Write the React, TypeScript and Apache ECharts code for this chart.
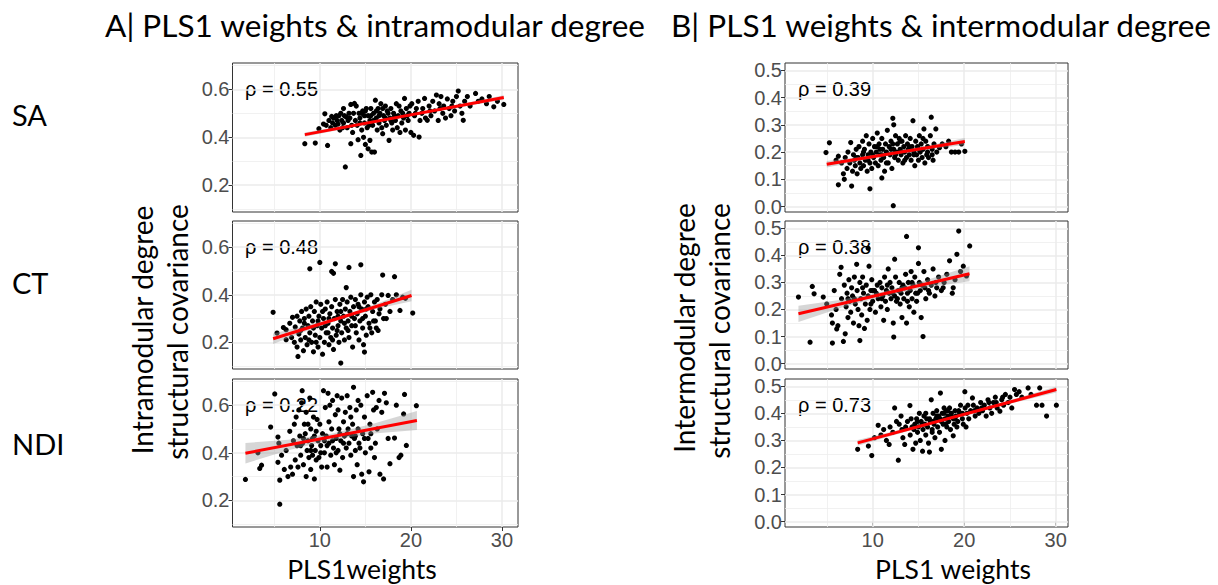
import React, { useEffect, useRef } from "react";
import * as echarts from "echarts";

const rowLabels = ["SA", "CT", "NDI"];
const rhoA = ["0.55", "0.48", "0.22"];
const rhoB = ["0.39", "0.38", "0.73"];
const xTicks = [10, 20, 30];
const xMinor = [5, 15, 25];
const yTicksA = [0.2, 0.4, 0.6];
const yMinorA = [0.1, 0.3, 0.5, 0.7];
const yTicksB = [0, 0.1, 0.2, 0.3, 0.4, 0.5];
const yMinorB = [0.05, 0.15, 0.25, 0.35, 0.45];

const aSA = [
  [8.35,0.373],[9.5,0.376],[9.9,0.436],[10.55,0.498],[10.85,0.366],[10.4,0.455],[10.7,0.45],[11.0,0.47],[11.3,0.487],[11.5,0.48],[11.2,0.44],[11.4,0.46],[11.7,0.45],[11.9,0.47],[12.0,0.455],[12.1,0.49],[12.2,0.43],[12.3,0.50],[12.5,0.44],[12.8,0.276],[12.6,0.46],[12.7,0.49],[12.9,0.485],[13.0,0.44],[13.1,0.47],[13.2,0.50],[13.4,0.537],[13.4,0.373],[13.6,0.42],[13.8,0.541],[13.9,0.47],[14.1,0.45],[14.2,0.39],[14.3,0.50],[14.5,0.324],[14.4,0.48],[14.6,0.43],[14.7,0.51],[14.8,0.40],[14.9,0.46],[15.0,0.37],[15.1,0.52],[15.2,0.44],[15.3,0.352],[15.3,0.49],[15.5,0.387],[15.5,0.47],[15.6,0.52],[15.7,0.338],[15.8,0.45],[15.9,0.50],[16.0,0.338],[16.1,0.555],[16.2,0.48],[16.3,0.43],[16.4,0.52],[16.5,0.46],[16.6,0.50],[16.7,0.54],[16.8,0.44],[16.9,0.415],[17.0,0.49],[17.1,0.47],[17.2,0.53],[17.3,0.45],[17.5,0.50],[17.6,0.387],[17.7,0.48],[17.8,0.52],[17.9,0.46],[18.0,0.43],[18.1,0.50],[18.3,0.47],[18.4,0.54],[18.5,0.44],[18.6,0.49],[18.8,0.42],[18.9,0.51],[19.0,0.46],[19.2,0.48],[19.3,0.562],[19.4,0.43],[19.5,0.52],[19.7,0.47],[19.8,0.50],[20.0,0.42],[20.1,0.54],[20.3,0.408],[20.4,0.49],[20.6,0.52],[20.9,0.401],[20.8,0.55],[21.0,0.47],[21.2,0.50],[21.5,0.562],[21.6,0.48],[21.8,0.471],[22.0,0.53],[22.2,0.49],[22.4,0.55],[22.6,0.51],[22.8,0.576],[23.0,0.47],[23.1,0.54],[23.3,0.57],[23.5,0.50],[23.6,0.53],[23.8,0.48],[24.0,0.56],[24.2,0.52],[24.4,0.49],[24.6,0.55],[24.8,0.51],[25.0,0.57],[25.2,0.593],[25.4,0.53],[25.6,0.50],[25.75,0.471],[25.9,0.55],[26.2,0.57],[26.5,0.53],[27.1,0.583],[27.4,0.55],[27.8,0.56],[28.3,0.54],[28.6,0.57],[29.1,0.527],[29.5,0.55],[30.2,0.537],
  [12.4,0.47],[13.3,0.48],[13.7,0.50],[14.0,0.53],[14.4,0.46],[14.9,0.49],[15.0,0.51],[15.4,0.45],[15.9,0.47],[16.2,0.51],[16.5,0.49],[16.9,0.52],[17.2,0.48],[17.4,0.51],[17.8,0.47],[18.2,0.49],[18.7,0.53],[19.1,0.50],[19.6,0.49],[19.9,0.53],[20.5,0.50],[21.3,0.52],[22.1,0.51],[23.2,0.52],[24.5,0.53],[11.8,0.49],[12.6,0.52],[13.5,0.45],[14.6,0.50],[15.6,0.49]
];

const aCT = [
  [4.87,0.326],[5.3,0.239],[6.0,0.262],[6.3,0.253],[6.3,0.211],[6.7,0.28],[6.9,0.22],[7.0,0.305],[7.2,0.20],[7.3,0.265],[7.5,0.31],[7.5,0.18],[7.6,0.141],[7.7,0.235],[7.8,0.29],[7.9,0.21],[8.0,0.33],[8.1,0.26],[8.2,0.165],[8.3,0.30],[8.4,0.22],[8.5,0.34],[8.6,0.19],[8.7,0.27],[8.8,0.31],[8.9,0.509],[8.9,0.24],[9.0,0.35],[9.1,0.20],[9.2,0.29],[9.3,0.16],[9.4,0.33],[9.5,0.23],[9.6,0.37],[9.7,0.27],[9.8,0.18],[9.9,0.31],[10.0,0.536],[10.0,0.22],[10.1,0.36],[10.2,0.26],[10.3,0.15],[10.4,0.30],[10.5,0.20],[10.6,0.34],[10.7,0.24],[10.8,0.37],[10.9,0.28],[11.0,0.19],[11.1,0.32],[11.2,0.22],[11.3,0.498],[11.3,0.35],[11.4,0.26],[11.5,0.49],[11.5,0.17],[11.6,0.30],[11.7,0.530],[11.7,0.38],[11.8,0.23],[11.9,0.33],[12.0,0.27],[12.1,0.20],[12.2,0.36],[12.3,0.113],[12.3,0.29],[12.4,0.24],[12.5,0.38],[12.6,0.31],[12.7,0.21],[12.8,0.34],[12.9,0.43],[12.9,0.26],[13.0,0.37],[13.1,0.29],[13.2,0.515],[13.2,0.22],[13.3,0.33],[13.4,0.39],[13.5,0.27],[13.6,0.18],[13.7,0.35],[13.8,0.30],[13.9,0.38],[14.0,0.24],[14.1,0.32],[14.2,0.36],[14.3,0.21],[14.4,0.29],[14.5,0.526],[14.5,0.40],[14.6,0.34],[14.7,0.26],[14.8,0.19],[14.9,0.159],[14.9,0.37],[15.0,0.31],[15.1,0.23],[15.2,0.39],[15.3,0.35],[15.4,0.28],[15.6,0.40],[15.7,0.24],[15.8,0.33],[16.0,0.37],[16.1,0.29],[16.2,0.26],[16.3,0.38],[16.4,0.25],[16.6,0.34],[16.8,0.40],[16.9,0.483],[17.0,0.30],[17.2,0.36],[17.5,0.397],[17.7,0.33],[18.0,0.38],[18.2,0.476],[18.4,0.40],[18.8,0.334],[19.1,0.39],[19.4,0.385],[20.2,0.323],
  [7.9,0.25],[8.3,0.28],[8.8,0.21],[9.3,0.26],[9.8,0.29],[10.3,0.33],[10.6,0.27],[11.0,0.30],[11.4,0.21],[11.9,0.25],[12.3,0.33],[12.7,0.28],[13.1,0.25],[13.5,0.31],[13.9,0.27],[14.3,0.35],[14.7,0.30],[15.1,0.34],[15.5,0.26],[15.9,0.29],[16.5,0.32],[17.3,0.30],[9.6,0.20],[10.9,0.24],[12.0,0.31]
];

const aNDI = [
  [1.83,0.288],[3.2,0.40],[3.4,0.334],[3.6,0.348],[4.6,0.508],[5.05,0.647],[5.4,0.466],[5.4,0.36],[5.5,0.44],[5.6,0.285],[5.6,0.184],[5.8,0.39],[6.1,0.33],[6.3,0.41],[6.5,0.30],[6.7,0.49],[6.8,0.34],[7.0,0.31],[7.1,0.45],[7.2,0.52],[7.3,0.37],[7.4,0.55],[7.5,0.43],[7.6,0.34],[7.7,0.58],[7.8,0.47],[7.9,0.39],[8.0,0.61],[8.06,0.661],[8.1,0.44],[8.2,0.35],[8.3,0.52],[8.4,0.48],[8.5,0.30],[8.5,0.57],[8.6,0.41],[8.7,0.45],[8.8,0.38],[8.9,0.63],[9.0,0.50],[9.0,0.33],[9.1,0.43],[9.2,0.39],[9.3,0.55],[9.4,0.29],[9.4,0.47],[9.5,0.41],[9.6,0.37],[9.7,0.54],[9.8,0.45],[9.9,0.38],[10.0,0.52],[10.1,0.43],[10.2,0.34],[10.3,0.48],[10.4,0.661],[10.5,0.40],[10.6,0.59],[10.7,0.47],[10.8,0.34],[10.9,0.65],[11.0,0.44],[11.1,0.60],[11.2,0.39],[11.3,0.50],[11.4,0.62],[11.5,0.42],[11.6,0.35],[11.7,0.56],[11.8,0.46],[11.9,0.64],[12.0,0.41],[12.1,0.50],[12.2,0.327],[12.3,0.45],[12.4,0.63],[12.5,0.38],[12.6,0.53],[12.7,0.47],[12.8,0.57],[12.9,0.42],[13.0,0.64],[13.1,0.50],[13.2,0.44],[13.3,0.59],[13.4,0.39],[13.5,0.47],[13.6,0.52],[13.7,0.675],[13.7,0.30],[13.8,0.46],[13.9,0.41],[14.0,0.58],[14.1,0.35],[14.2,0.50],[14.3,0.44],[14.5,0.60],[14.6,0.31],[14.7,0.48],[14.8,0.278],[14.9,0.55],[15.0,0.40],[15.2,0.64],[15.3,0.46],[15.4,0.32],[15.5,0.52],[15.6,0.42],[15.8,0.654],[15.9,0.58],[16.0,0.38],[16.2,0.59],[16.3,0.50],[16.5,0.62],[16.6,0.31],[16.8,0.57],[17.0,0.29],[17.1,0.65],[17.3,0.61],[17.5,0.46],[17.7,0.354],[18.2,0.462],[18.4,0.60],[18.7,0.38],[18.9,0.39],[19.2,0.563],[19.3,0.645],[19.5,0.431],[20.6,0.598],
  [8.2,0.46],[8.7,0.52],[9.2,0.46],[9.6,0.49],[10.1,0.40],[10.5,0.45],[11.0,0.53],[11.4,0.45],[11.8,0.40],[12.2,0.48],[12.6,0.44],[13.0,0.48],[13.4,0.55],[13.9,0.47],[14.4,0.42],[14.9,0.46],[15.6,0.48],[16.1,0.44],[9.0,0.41],[10.8,0.43],[12.0,0.58],[7.9,0.43],[14.2,0.62]
];

const bSA = [
  [4.9,0.198],[5.27,0.234],[6.0,0.17],[6.25,0.185],[6.25,0.08],[6.6,0.16],[6.8,0.12],[6.9,0.10],[7.0,0.18],[7.2,0.14],[7.3,0.20],[7.5,0.16],[7.6,0.235],[7.7,0.075],[7.8,0.13],[7.9,0.19],[8.0,0.17],[8.1,0.15],[8.2,0.21],[8.3,0.12],[8.4,0.18],[8.5,0.22],[8.6,0.16],[8.7,0.14],[8.9,0.24],[8.9,0.19],[9.0,0.15],[9.1,0.21],[9.2,0.17],[9.3,0.26],[9.4,0.13],[9.5,0.19],[9.6,0.23],[9.7,0.065],[9.7,0.16],[9.8,0.20],[9.9,0.14],[10.0,0.25],[10.1,0.18],[10.2,0.22],[10.3,0.16],[10.4,0.20],[10.5,0.27],[10.6,0.15],[10.7,0.23],[10.8,0.19],[10.9,0.17],[11.0,0.105],[11.0,0.25],[11.1,0.21],[11.2,0.18],[11.3,0.13],[11.4,0.23],[11.5,0.20],[11.6,0.28],[11.7,0.16],[11.8,0.22],[11.9,0.19],[12.0,0.24],[12.1,0.14],[12.2,0.324],[12.3,0.30],[12.25,0.003],[12.3,0.21],[12.4,0.18],[12.5,0.26],[12.6,0.20],[12.7,0.23],[12.8,0.17],[12.9,0.25],[13.0,0.21],[13.1,0.19],[13.2,0.24],[13.3,0.16],[13.4,0.22],[13.5,0.20],[13.6,0.26],[13.7,0.18],[13.8,0.23],[13.9,0.21],[14.0,0.19],[14.1,0.25],[14.2,0.17],[14.3,0.22],[14.4,0.315],[14.5,0.20],[14.6,0.15],[14.7,0.24],[14.8,0.19],[14.9,0.22],[15.0,0.17],[15.1,0.26],[15.2,0.20],[15.3,0.23],[15.4,0.18],[15.5,0.21],[15.6,0.285],[15.7,0.16],[15.8,0.24],[15.9,0.19],[16.0,0.22],[16.1,0.18],[16.3,0.26],[16.4,0.328],[16.5,0.21],[16.6,0.17],[16.7,0.23],[16.9,0.285],[17.0,0.20],[17.3,0.216],[17.6,0.23],[18.0,0.22],[18.3,0.24],[18.6,0.20],[19.0,0.20],[19.4,0.20],[19.7,0.23],[20.07,0.203],
  [9.0,0.20],[9.5,0.17],[10.0,0.19],[10.5,0.22],[11.0,0.19],[11.5,0.16],[12.0,0.21],[12.5,0.19],[13.0,0.24],[13.5,0.17],[14.0,0.22],[14.5,0.19],[15.0,0.21],[15.5,0.25],[16.0,0.20],[16.5,0.19],[13.2,0.20],[12.2,0.23],[10.8,0.21],[8.2,0.18]
];

const bCT = [
  [1.89,0.246],[3.16,0.079],[3.4,0.285],[3.6,0.258],[4.6,0.246],[4.98,0.22],[5.5,0.18],[5.6,0.15],[5.6,0.076],[5.8,0.27],[6.0,0.20],[6.07,0.128],[6.2,0.14],[6.4,0.33],[6.55,0.356],[6.6,0.24],[6.8,0.082],[6.9,0.29],[7.0,0.11],[7.1,0.21],[7.2,0.26],[7.3,0.17],[7.4,0.31],[7.5,0.23],[7.6,0.19],[7.7,0.28],[7.8,0.25],[7.9,0.15],[8.0,0.32],[8.1,0.22],[8.25,0.367],[8.3,0.27],[8.4,0.20],[8.5,0.14],[8.6,0.085],[8.6,0.30],[8.7,0.24],[8.8,0.18],[8.9,0.32],[9.0,0.26],[9.1,0.13],[9.2,0.22],[9.3,0.29],[9.4,0.16],[9.5,0.426],[9.5,0.25],[9.6,0.36],[9.7,0.20],[9.8,0.27],[9.9,0.31],[10.0,0.23],[10.2,0.27],[10.3,0.19],[10.4,0.26],[10.6,0.24],[10.8,0.30],[10.9,0.21],[11.0,0.28],[11.1,0.25],[11.2,0.16],[11.3,0.32],[11.4,0.23],[11.5,0.27],[11.6,0.20],[11.7,0.35],[11.8,0.26],[11.9,0.30],[12.0,0.24],[12.1,0.28],[12.25,0.15],[12.3,0.098],[12.4,0.386],[12.4,0.25],[12.5,0.32],[12.6,0.23],[12.8,0.27],[12.9,0.30],[13.0,0.22],[13.1,0.26],[13.2,0.17],[13.3,0.29],[13.4,0.24],[13.5,0.28],[13.6,0.33],[13.7,0.47],[13.7,0.15],[13.8,0.26],[13.9,0.30],[14.0,0.21],[14.1,0.27],[14.2,0.34],[14.3,0.24],[14.4,0.29],[14.5,0.19],[14.6,0.32],[14.7,0.26],[14.8,0.23],[15.0,0.428],[15.0,0.37],[15.1,0.30],[15.2,0.27],[15.3,0.17],[15.5,0.10],[15.6,0.34],[15.7,0.28],[15.8,0.24],[16.0,0.31],[16.2,0.26],[16.4,0.29],[16.6,0.35],[16.8,0.25],[17.0,0.28],[17.2,0.32],[17.5,0.27],[17.8,0.30],[18.1,0.33],[18.4,0.38],[18.7,0.26],[18.8,0.28],[19.0,0.31],[19.2,0.404],[19.4,0.49],[19.6,0.34],[19.9,0.36],[20.25,0.324],[20.6,0.435],
  [8.0,0.24],[8.9,0.28],[9.8,0.22],[10.5,0.29],[11.0,0.24],[11.6,0.29],[12.2,0.26],[12.7,0.24],[13.2,0.28],[13.8,0.23],[14.3,0.30],[14.9,0.26],[15.4,0.29],[16.1,0.27],[16.9,0.30],[17.7,0.28],[10.0,0.27],[7.3,0.24]
];

const bNDI = [
  [8.36,0.267],[9.53,0.279],[9.9,0.244],[10.2,0.31],[10.6,0.356],[10.9,0.32],[11.2,0.34],[11.5,0.30],[11.8,0.285],[11.9,0.35],[12.2,0.33],[12.4,0.42],[12.6,0.37],[12.8,0.227],[12.9,0.36],[13.1,0.39],[13.3,0.31],[13.5,0.285],[13.6,0.35],[13.8,0.37],[14.07,0.429],[14.1,0.32],[14.2,0.38],[14.4,0.267],[14.5,0.34],[14.6,0.36],[14.7,0.29],[14.8,0.38],[14.9,0.33],[15.0,0.35],[15.1,0.40],[15.2,0.30],[15.3,0.37],[15.45,0.26],[15.5,0.34],[15.6,0.39],[15.7,0.36],[15.8,0.32],[15.9,0.38],[16.0,0.35],[16.1,0.29],[16.2,0.257],[16.3,0.37],[16.4,0.45],[16.5,0.34],[16.6,0.40],[16.7,0.36],[16.8,0.31],[16.9,0.38],[17.0,0.41],[17.1,0.35],[17.2,0.39],[17.3,0.33],[17.4,0.475],[17.5,0.267],[17.5,0.37],[17.6,0.40],[17.7,0.36],[17.8,0.42],[17.9,0.30],[17.9,0.38],[18.0,0.41],[18.1,0.35],[18.2,0.39],[18.3,0.37],[18.4,0.42],[18.5,0.34],[18.6,0.40],[18.8,0.317],[18.8,0.38],[18.9,0.36],[19.0,0.41],[19.1,0.39],[19.2,0.35],[19.3,0.37],[19.5,0.40],[19.6,0.43],[19.8,0.38],[19.9,0.36],[20.07,0.48],[20.1,0.42],[20.2,0.35],[20.3,0.40],[20.5,0.38],[20.7,0.41],[20.9,0.457],[21.0,0.43],[21.2,0.39],[21.4,0.42],[21.6,0.40],[21.8,0.44],[22.0,0.41],[22.2,0.43],[22.4,0.39],[22.6,0.45],[22.8,0.42],[23.0,0.40],[23.2,0.44],[23.4,0.46],[23.6,0.42],[23.9,0.408],[24.1,0.45],[24.3,0.43],[24.5,0.47],[24.8,0.44],[25.0,0.46],[25.2,0.42],[25.5,0.488],[25.7,0.47],[26.0,0.48],[26.3,0.46],[26.98,0.494],[27.3,0.47],[27.9,0.43],[28.25,0.494],[28.5,0.43],[29.0,0.39],[30.07,0.43],
  [14.3,0.35],[14.9,0.37],[15.4,0.36],[15.8,0.40],[16.2,0.38],[16.6,0.37],[17.0,0.39],[17.4,0.38],[17.8,0.40],[18.2,0.41],[18.6,0.39],[19.0,0.38],[19.4,0.41],[19.8,0.40],[20.4,0.43],[21.1,0.41],[21.9,0.42],[22.7,0.44],[23.5,0.44],[24.2,0.46],[13.2,0.34],[16.5,0.33],[18.0,0.36]
];

const fitASA = [[8.35,0.411],[30.2,0.566]];
const fitACT = [[4.87,0.215],[20.07,0.397]];
const fitANDI = [[1.83,0.398],[20.66,0.536]];
const fitBSA = [[4.98,0.155],[20.07,0.239]];
const fitBCT = [[1.89,0.184],[20.58,0.332]];
const fitBNDI = [[8.36,0.291],[30.07,0.488]];

const bandASA = [[8.35,0.402,0.420],[13.8,0.444,0.456],[19.3,0.485,0.493],[24.7,0.521,0.533],[30.2,0.557,0.575]];
const bandACT = [[4.87,0.193,0.237],[8.67,0.250,0.272],[12.47,0.299,0.313],[16.27,0.341,0.362],[20.07,0.373,0.421]];
const bandANDI = [[1.83,0.355,0.441],[6.54,0.411,0.455],[11.25,0.454,0.480],[15.95,0.481,0.523],[20.66,0.496,0.576]];
const bandBSA = [[4.98,0.143,0.167],[8.75,0.169,0.183],[12.53,0.192,0.202],[16.3,0.211,0.225],[20.07,0.226,0.252]];
const bandBCT = [[1.89,0.154,0.214],[6.56,0.206,0.236],[11.24,0.249,0.267],[15.91,0.281,0.309],[20.58,0.304,0.360]];
const bandBNDI = [[8.36,0.280,0.302],[13.79,0.334,0.346],[19.22,0.386,0.394],[24.64,0.433,0.445],[30.07,0.477,0.499]];

const TICK_FONT = "'Liberation Sans', Arial, sans-serif";
const TITLE_FONT = "Lato, 'Open Sans', sans-serif";

export default function App() {
  const ref = useRef<HTMLDivElement>(null);
  useEffect(() => {
    if (!ref.current) return;
    const chart = echarts.init(ref.current, undefined, { renderer: "svg" });

    const panels = [
      { pts: aSA, fit: fitASA, band: bandASA, rho: rhoA[0], col: 0, row: 0 },
      { pts: aCT, fit: fitACT, band: bandACT, rho: rhoA[1], col: 0, row: 1 },
      { pts: aNDI, fit: fitANDI, band: bandANDI, rho: rhoA[2], col: 0, row: 2 },
      { pts: bSA, fit: fitBSA, band: bandBSA, rho: rhoB[0], col: 1, row: 0 },
      { pts: bCT, fit: fitBCT, band: bandBCT, rho: rhoB[1], col: 1, row: 1 },
      { pts: bNDI, fit: fitBNDI, band: bandBNDI, rho: rhoB[2], col: 1, row: 2 },
    ];
    const tops = [63, 221, 379];
    const heights = [149, 148, 148];
    const lefts = [232.5, 785];
    const widths = [285.5, 283];
    const xRanges = [[0.41, 31.76], [0.42, 31.34]];
    const yRanges = [[0.088, 0.71], [-0.02, 0.527]];

    const grids: any[] = [];
    const xAxes: any[] = [];
    const yAxes: any[] = [];
    const series: any[] = [];
    const graphics: any[] = [];

    panels.forEach((p, i) => {
      const c = p.col;
      grids.push({
        left: lefts[c], top: tops[p.row], width: widths[c], height: heights[p.row],
        show: true, backgroundColor: "#fff", borderColor: "#333", borderWidth: 1,
      });
      const showX = p.row === 2;
      xAxes.push({
        gridIndex: i, type: "value", min: xRanges[c][0], max: xRanges[c][1],
        axisLine: { show: false }, splitLine: { show: false },
        axisTick: { show: showX, customValues: xTicks, length: 4, lineStyle: { color: "#333", width: 1 } },
        axisLabel: { show: showX, customValues: xTicks, color: "#4d4d4d", fontSize: 20, fontFamily: TICK_FONT, margin: 3 },
      });
      const yt = c === 0 ? yTicksA : yTicksB;
      yAxes.push({
        gridIndex: i, type: "value", min: yRanges[c][0], max: yRanges[c][1],
        axisLine: { show: false }, splitLine: { show: false },
        axisTick: { show: true, customValues: yt, length: 4, lineStyle: { color: "#333", width: 1 } },
        axisLabel: {
          show: true, customValues: yt, color: "#4d4d4d", fontSize: 20, fontFamily: TICK_FONT, margin: 3,
          formatter: (v: number) => v.toFixed(1),
        },
      });
      const ym = c === 0 ? yMinorA : yMinorB;
      const major = { color: "#ebebeb", width: 1.5, type: "solid" };
      const minor = { color: "#ededed", width: 0.8, type: "solid" };
      const gl = [
        ...xMinor.map((v) => ({ xAxis: v, lineStyle: minor })),
        ...ym.map((v) => ({ yAxis: v, lineStyle: minor })),
        ...xTicks.map((v) => ({ xAxis: v, lineStyle: major })),
        ...yt.map((v) => ({ yAxis: v, lineStyle: major })),
      ];
      series.push({
        type: "scatter", xAxisIndex: i, yAxisIndex: i, data: p.pts, symbolSize: 5.2,
        itemStyle: { color: "#000", opacity: 1 }, z: 2, silent: true,
        markLine: { silent: true, symbol: ["none", "none"], z: 1, label: { show: false }, animation: false, data: gl },
      });
      const band = p.band;
      series.push({
        type: "custom", xAxisIndex: i, yAxisIndex: i, data: band, z: 3, silent: true,
        encode: { x: 0, y: 1 },
        renderItem: (params: any, api: any) => {
          if (params.dataIndex !== 0) return null;
          const upper = band.map((b) => api.coord([b[0], b[2]]));
          const lower = band.slice().reverse().map((b) => api.coord([b[0], b[1]]));
          return {
            type: "polygon",
            shape: { points: upper.concat(lower) },
            style: { fill: "rgba(153,153,153,0.4)", stroke: "none" },
          };
        },
      });
      series.push({
        type: "line", xAxisIndex: i, yAxisIndex: i, data: p.fit, symbol: "none", z: 4, silent: true,
        lineStyle: { color: "#ff0000", width: 3 },
      });
      graphics.push({
        type: "text", x: c === 0 ? 245 : 798, y: tops[p.row] + 26,
        style: { text: "ρ = " + p.rho, fill: "#000", font: `20px ${TICK_FONT}`, textAlign: "left", textVerticalAlign: "middle" },
      });
    });

    const tf = (s: number) => `${s}px ${TITLE_FONT}`;
    graphics.push(
      { type: "text", x: 375, y: 25, style: { text: "A| PLS1 weights & intramodular degree", fill: "#000", font: tf(31.5), textAlign: "center", textVerticalAlign: "middle" } },
      { type: "text", x: 941, y: 25, style: { text: "B| PLS1 weights & intermodular degree", fill: "#000", font: tf(31.5), textAlign: "center", textVerticalAlign: "middle" } },
      { type: "text", x: 12, y: 114, style: { text: rowLabels[0], fill: "#000", font: tf(29), textAlign: "left", textVerticalAlign: "middle" } },
      { type: "text", x: 12, y: 282, style: { text: rowLabels[1], fill: "#000", font: tf(29), textAlign: "left", textVerticalAlign: "middle" } },
      { type: "text", x: 12, y: 443, style: { text: rowLabels[2], fill: "#000", font: tf(29), textAlign: "left", textVerticalAlign: "middle" } },
      { type: "text", x: 142, y: 330, rotation: Math.PI / 2, style: { text: "Intramodular degree", fill: "#000", font: tf(28), textAlign: "center", textVerticalAlign: "middle" } },
      { type: "text", x: 177, y: 332, rotation: Math.PI / 2, style: { text: "structural covariance", fill: "#000", font: tf(28), textAlign: "center", textVerticalAlign: "middle" } },
      { type: "text", x: 684, y: 328, rotation: Math.PI / 2, style: { text: "Intermodular degree", fill: "#000", font: tf(28), textAlign: "center", textVerticalAlign: "middle" } },
      { type: "text", x: 719, y: 331, rotation: Math.PI / 2, style: { text: "structural covariance", fill: "#000", font: tf(28), textAlign: "center", textVerticalAlign: "middle" } },
      { type: "text", x: 362, y: 569, style: { text: "PLS1weights", fill: "#000", font: tf(26.5), textAlign: "center", textVerticalAlign: "middle" } },
      { type: "text", x: 953, y: 569, style: { text: "PLS1 weights", fill: "#000", font: tf(26.5), textAlign: "center", textVerticalAlign: "middle" } },
    );

    chart.setOption({
      animation: false,
      backgroundColor: "#fff",
      grid: grids,
      xAxis: xAxes,
      yAxis: yAxes,
      series,
      graphic: graphics,
    });
    return () => chart.dispose();
  }, []);
  return <div ref={ref} style={{ position: "absolute", left: 0, top: 0, width: 1218, height: 585 }} />;
}
